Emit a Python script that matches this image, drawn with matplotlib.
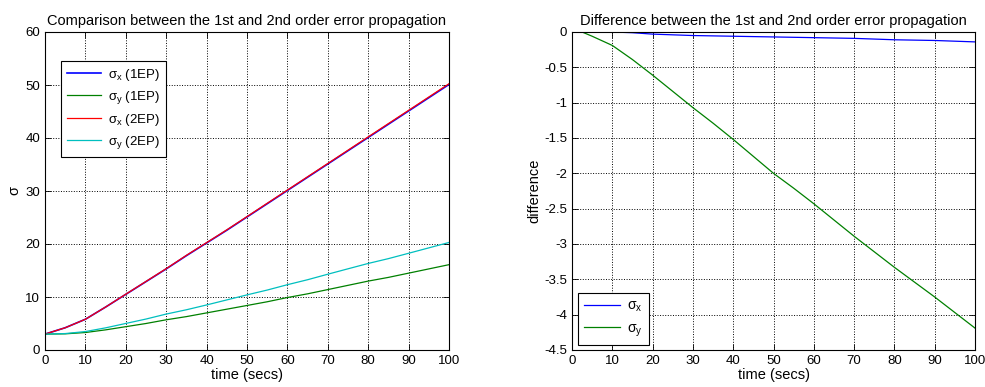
import numpy as np
import matplotlib
matplotlib.use('Agg')
import matplotlib.pyplot as plt

plt.rcParams['font.family'] = ['Liberation Sans', 'DejaVu Sans']
plt.rcParams['font.size'] = 10
plt.rcParams['mathtext.fontset'] = 'custom'
plt.rcParams['mathtext.rm'] = 'Liberation Sans'
plt.rcParams['mathtext.it'] = 'Liberation Sans'

# time axis (secs)
t = [0, 5, 10, 15, 20, 25, 30, 35, 40, 45, 50, 55, 60, 65, 70, 75, 80, 85, 90, 95, 100]

sx_1ep = [3.0, 4.2, 5.8, 8.1, 10.5, 12.9, 15.3, 17.8, 20.2, 22.6, 25.1,
          27.6, 30.1, 32.6, 35.1, 37.6, 40.1, 42.6, 45.1, 47.6, 50.1]
sy_1ep = [3.0, 3.05, 3.3, 3.8, 4.4, 5.0, 5.7, 6.3, 7.0, 7.7, 8.4,
          9.1, 9.9, 10.6, 11.4, 12.2, 13.0, 13.7, 14.5, 15.3, 16.1]
sx_2ep = [3.0, 4.2, 5.8, 8.11, 10.53, 12.94, 15.35, 17.86, 20.26, 22.67, 25.17,
          27.68, 30.18, 32.69, 35.19, 37.7, 40.21, 42.72, 45.22, 47.73, 50.24]
sy_2ep = [3.0, 3.1, 3.48, 4.18, 5.01, 5.84, 6.78, 7.59, 8.5, 9.45, 10.4,
          11.31, 12.32, 13.26, 14.3, 15.32, 16.33, 17.24, 18.25, 19.27, 20.29]

# difference 1EP - 2EP
t_diff = [2.5, 5, 10, 15, 20, 25, 30, 35, 40, 45, 50, 55, 60, 65, 70, 75, 80, 85, 90, 95, 100]
dx = [0.0, 0.0, 0.0, -0.01, -0.03, -0.04, -0.05, -0.055, -0.06, -0.065, -0.07,
      -0.075, -0.08, -0.085, -0.09, -0.1, -0.11, -0.115, -0.12, -0.13, -0.14]
dy = [0.0, -0.06, -0.19, -0.39, -0.61, -0.84, -1.07, -1.29, -1.52, -1.76, -2.0,
      -2.21, -2.43, -2.66, -2.89, -3.11, -3.33, -3.54, -3.75, -3.97, -4.19]

blue = '#0000ff'
green = '#008000'
red = '#ff0000'
cyan = '#00bfbf'

fig = plt.figure(figsize=(9.85, 3.87), dpi=100)
ax1 = fig.add_axes([45/985, 1 - 350/387, 404/985, 318/387])
ax2 = fig.add_axes([572/985, 1 - 350/387, 403/985, 318/387])


def style(ax):
    ax.grid(True, linestyle=':', color='black', linewidth=0.7)
    ax.tick_params(direction='in', top=True, right=True, length=4, width=0.6, labelsize=9.5)
    for s in ax.spines.values():
        s.set_linewidth(0.8)


ax1.plot(t, sx_1ep, color=blue, lw=1.2, label=r'$\sigma_x$ (1EP)')
ax1.plot(t, sy_1ep, color=green, lw=0.9, label=r'$\sigma_y$ (1EP)')
ax1.plot(t, sx_2ep, color=red, lw=0.9, label=r'$\sigma_x$ (2EP)')
ax1.plot(t, sy_2ep, color=cyan, lw=0.9, label=r'$\sigma_y$ (2EP)')
ax1.set_xlim(0, 100)
ax1.set_ylim(0, 60)
ax1.set_xticks(np.arange(0, 101, 10))
ax1.set_yticks(np.arange(0, 61, 10))
ax1.set_xlabel('time (secs)', labelpad=1, fontsize=10.5)
ax1.set_ylabel(r'$\sigma$', labelpad=2, fontsize=10.5)
ax1.set_title('Comparison between the 1st and 2nd order error propagation', fontsize=10.5, pad=5)
style(ax1)
leg1 = ax1.legend(loc='upper left', bbox_to_anchor=(0.04, 0.909), borderaxespad=0,
                  fancybox=False, edgecolor='black', framealpha=1, fontsize=9.5,
                  handlelength=2.6, handletextpad=0.5, borderpad=0.45, labelspacing=0.45)
leg1.get_frame().set_linewidth(0.8)

ax2.plot(t_diff, dx, color=blue, lw=0.9, label=r'$\sigma_x$')
ax2.plot(t_diff, dy, color=green, lw=0.9, label=r'$\sigma_y$')
ax2.set_xlim(0, 100)
ax2.set_ylim(-4.5, 0)
ax2.set_xticks(np.arange(0, 101, 10))
ax2.set_yticks(np.arange(-4.5, 0.01, 0.5))
ax2.set_yticklabels(['-4.5', '-4', '-3.5', '-3', '-2.5', '-2', '-1.5', '-1', '-0.5', '0'])
ax2.set_xlabel('time (secs)', labelpad=1, fontsize=10.5)
ax2.set_ylabel('difference', labelpad=2, fontsize=10.5)
ax2.set_title('Difference between the 1st and 2nd order error propagation', fontsize=10.5, pad=5)
style(ax2)
leg2 = ax2.legend(loc='lower left', bbox_to_anchor=(0.015, 0.016), borderaxespad=0,
                  fancybox=False, edgecolor='black', framealpha=1, fontsize=10,
                  handlelength=2.6, handletextpad=0.5, borderpad=0.45, labelspacing=0.5)
leg2.get_frame().set_linewidth(0.8)

fig.savefig('out.png', dpi=100)
